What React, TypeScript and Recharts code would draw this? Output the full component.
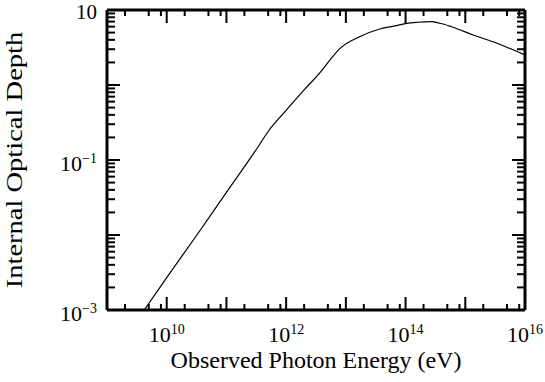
import { LineChart, Line, XAxis, YAxis, Label } from "recharts"

const ENERGY_EV = [
    4.2e9, 1e10, 3.2e10, 1e11, 3.2e11, 5e11, 1e12, 2e12, 4e12, 5.4e12, 8e12, 1.7e13, 3.7e13, 7.1e13,
    1.05e14, 1.6e14, 2.6e14, 3.8e14, 5.9e14, 1.36e15, 3.4e15, 1e16,
]
const OPTICAL_DEPTH = [
    1e-3, 2.7e-3, 1.0e-2, 3.7e-2, 0.14, 0.24, 0.46, 0.86, 1.58, 2.15, 3.08, 4.41, 5.58, 6.18, 6.65,
    6.87, 6.98, 6.65, 5.98, 4.65, 3.6, 2.51,
]

const X_DECADES = [1e9, 1e10, 1e11, 1e12, 1e13, 1e14, 1e15, 1e16]
const X_MINOR_STEPS = [2, 5, 8]
const X_LABELS = [1e10, 1e12, 1e14, 1e16]

const Y_DECADES = [1e-3, 1e-2, 1e-1, 1, 10]
const Y_MINOR_STEPS = [2, 3, 4, 5, 6, 7, 8, 9]
const Y_LABELS = [1e-3, 1e-1, 10]

const data = ENERGY_EV.map((e, i) => ({ energy: e, depth: OPTICAL_DEPTH[i] }))

const withMinor = (decades: number[], steps: number[]) => {
    const out: number[] = []
    decades.forEach((d, i) => {
        out.push(d)
        if (i < decades.length - 1) steps.forEach((s) => out.push(d * s))
    })
    return out
}

const X_TICKS = withMinor(X_DECADES, X_MINOR_STEPS)
const Y_TICKS = withMinor(Y_DECADES, Y_MINOR_STEPS)

const FONT = "'Liberation Serif', 'DejaVu Serif', serif"

const isMajor = (v: number) => {
    const l = Math.log10(v)
    return Math.abs(l - Math.round(l)) < 1e-6
}
const hasLabel = (v: number, list: number[]) => list.some((l) => Math.abs(Math.log10(l) - Math.log10(v)) < 1e-6)

const expText = (v: number) => {
    const e = Math.round(Math.log10(v))
    return e < 0 ? "\u2212" + Math.abs(e) : String(e)
}

function BottomTick(props: any) {
    const { x, y, payload } = props
    const v = payload.value
    const major = isMajor(v)
    return (
        <g>
            <line x1={x} y1={y} x2={x} y2={y - (major ? 13 : 6)} stroke="#000" strokeWidth={2} />
            {hasLabel(v, X_LABELS) && (
                <text x={x} y={y + 32} textAnchor="middle" fontFamily={FONT} fontSize={22} fill="#000">
                    10
                    <tspan dy={-8} fontSize={14}>
                        {expText(v)}
                    </tspan>
                </text>
            )}
        </g>
    )
}

function TopTick(props: any) {
    const { x, y, payload } = props
    const major = isMajor(payload.value)
    return <line x1={x} y1={y} x2={x} y2={y + (major ? 13 : 6)} stroke="#000" strokeWidth={2} />
}

function LeftTick(props: any) {
    const { x, y, payload } = props
    const v = payload.value
    const major = isMajor(v)
    const e = Math.round(Math.log10(v))
    return (
        <g>
            <line x1={x} y1={y} x2={x + (major ? 13 : 8)} y2={y} stroke="#000" strokeWidth={2} />
            {hasLabel(v, Y_LABELS) &&
                (e === 1 ? (
                    <text x={x - 10} y={y + 9} textAnchor="end" fontFamily={FONT} fontSize={21} fill="#000">
                        10
                    </text>
                ) : (
                    <text x={x - 10} y={y + 11} textAnchor="end" fontFamily={FONT} fontSize={22} fill="#000">
                        10
                        <tspan dy={-8} fontSize={14}>
                            {expText(v)}
                        </tspan>
                    </text>
                ))}
        </g>
    )
}

function RightTick(props: any) {
    const { x, y, payload } = props
    const major = isMajor(payload.value)
    return <line x1={x} y1={y} x2={x - (major ? 13 : 8)} y2={y} stroke="#000" strokeWidth={2} />
}

const axisLine = { stroke: "#000", strokeWidth: 3 }

export default function App() {
    return (
        <div style={{ position: "absolute", left: 0, top: 0, background: "#fff" }}>
            <LineChart width={545} height={382} data={data} margin={{ top: 9, right: 19, bottom: 0, left: 0 }}>
                <XAxis
                    dataKey="energy"
                    type="number"
                    scale="log"
                    domain={[1e9, 1e16]}
                    allowDataOverflow
                    ticks={X_TICKS}
                    interval={0}
                    tickSize={0}
                    tickMargin={0}
                    tick={<BottomTick />}
                    axisLine={axisLine}
                    tickLine={false}
                    height={72}
                >
                    <Label
                        content={(p: any) => {
                            const vb = p.viewBox
                            return (
                                <text
                                    x={vb.x + vb.width / 2}
                                    y={vb.y + 58}
                                    textAnchor="middle"
                                    fontFamily={FONT}
                                    fontSize={24}
                                    fill="#000"
                                >
                                    Observed Photon Energy (eV)
                                </text>
                            )
                        }}
                    />
                </XAxis>
                <XAxis
                    xAxisId="top"
                    orientation="top"
                    dataKey="energy"
                    type="number"
                    scale="log"
                    domain={[1e9, 1e16]}
                    allowDataOverflow
                    ticks={X_TICKS}
                    interval={0}
                    tickSize={0}
                    tickMargin={0}
                    tick={<TopTick />}
                    axisLine={axisLine}
                    tickLine={false}
                    height={1}
                />
                <YAxis
                    dataKey="depth"
                    type="number"
                    scale="log"
                    domain={[1e-3, 10]}
                    allowDataOverflow
                    ticks={Y_TICKS}
                    interval={0}
                    tickSize={0}
                    tickMargin={0}
                    tick={<LeftTick />}
                    axisLine={axisLine}
                    tickLine={false}
                    width={107}
                >
                    <Label
                        content={(p: any) => {
                            const vb = p.viewBox
                            const cy = vb.y + vb.height / 2
                            return (
                                <text
                                    x={0}
                                    y={0}
                                    transform={`translate(22, ${cy}) rotate(-90) scale(1.24, 1)`}
                                    textAnchor="middle"
                                    fontFamily={FONT}
                                    fontSize={23}
                                    fill="#000"
                                >
                                    Internal Optical Depth
                                </text>
                            )
                        }}
                    />
                </YAxis>
                <YAxis
                    yAxisId="right"
                    orientation="right"
                    dataKey="depth"
                    type="number"
                    scale="log"
                    domain={[1e-3, 10]}
                    allowDataOverflow
                    ticks={Y_TICKS}
                    interval={0}
                    tickSize={0}
                    tickMargin={0}
                    tick={<RightTick />}
                    axisLine={axisLine}
                    tickLine={false}
                    width={1}
                />
                <Line
                    dataKey="depth"
                    type="monotone"
                    stroke="#000"
                    strokeWidth={1.2}
                    dot={false}
                    isAnimationActive={false}
                />
            </LineChart>
        </div>
    )
}
